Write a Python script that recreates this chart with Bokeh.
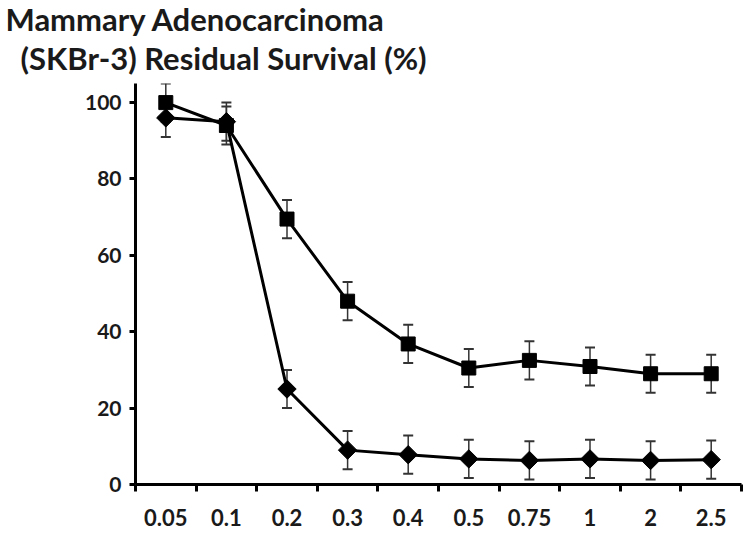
from bokeh.plotting import figure
from bokeh.models import (ColumnDataSource, Range1d, FixedTicker, LinearAxis,
                          Whisker, TeeHead, Title)
from bokeh.embed import file_html
from bokeh.resources import INLINE

categories = ["0.05", "0.1", "0.2", "0.3", "0.4", "0.5", "0.75", "1", "2", "2.5"]
square_vals = [100, 94, 69.5, 48, 36.8, 30.5, 32.5, 30.9, 29, 29]
square_err = [5, 5, 5, 5, 5, 5, 5, 5, 5, 5]
diamond_vals = [96, 95, 25, 9, 7.8, 6.7, 6.3, 6.7, 6.3, 6.5]
diamond_err = [5, 5, 5, 5, 5, 5, 5, 5, 5, 5]
y_ticks = [0, 20, 40, 60, 80, 100]
title_line1 = "Mammary Adenocarcinoma"
title_line2 = "(SKBr-3) Residual Survival (%)"

FONT = "Lato"
n = len(categories)
xpos = [i + 0.5 for i in range(n)]

sq = ColumnDataSource(dict(x=xpos, y=square_vals,
                           lo=[v - e for v, e in zip(square_vals, square_err)],
                           hi=[v + e for v, e in zip(square_vals, square_err)]))
di = ColumnDataSource(dict(x=xpos, y=diamond_vals,
                           lo=[v - e for v, e in zip(diamond_vals, diamond_err)],
                           hi=[v + e for v, e in zip(diamond_vals, diamond_err)]))

W, H = 743, 533
BL, BR, BT, BB = 135, 2, 83, 49
p = figure(width=W, height=H, output_backend="svg", toolbar_location=None,
           x_range=Range1d(0, n), y_range=Range1d(0, 105),
           min_border_left=BL, min_border_right=BR, min_border_bottom=BB,
           min_border_top=BT)
p.title = None
p.grid.visible = False
p.outline_line_color = None
p.background_fill_color = "white"
p.border_fill_color = "white"

# two-line title (bottom line added first so it sits nearest the plot)
t2 = Title(text=title_line2, align="left", text_font=FONT, text_font_size="31px",
           text_font_style="bold", text_color="#1a1a1a", offset=-115,
           standoff=14)
t1 = Title(text=title_line1, align="left", text_font=FONT, text_font_size="31px",
           text_font_style="bold", text_color="#1a1a1a", offset=-130,
           standoff=-16)
p.add_layout(t2, "above")
p.add_layout(t1, "above")

# y axis
ya = p.yaxis[0]
ya.ticker = FixedTicker(ticks=y_ticks)
ya.minor_tick_line_color = None
ya.axis_line_width = 3
ya.major_tick_line_width = 3
ya.major_tick_out = 6
ya.major_tick_in = 0
ya.major_label_standoff = 8
ya.major_label_text_font = FONT
ya.major_label_text_font_style = "bold"
ya.major_label_text_font_size = "21px"
ya.major_label_text_color = "#1a1a1a"

# x axis: tick marks at category boundaries
bounds = list(range(n + 1))
xa = p.xaxis[0]
xa.ticker = FixedTicker(ticks=bounds)
xa.major_label_overrides = {b: "" for b in bounds}
xa.minor_tick_line_color = None
xa.axis_line_width = 3
xa.major_tick_line_width = 3
xa.major_tick_out = 7
xa.major_tick_in = 0
xa.major_label_standoff = 0

# x labels at category centres
xl = LinearAxis(ticker=FixedTicker(ticks=xpos),
                major_label_overrides={x: c for x, c in zip(xpos, categories)})
xl.axis_line_color = None
xl.major_tick_line_color = None
xl.minor_tick_line_color = None
xl.major_tick_out = 0
xl.major_label_standoff = 17
xl.major_label_text_font = FONT
xl.major_label_text_font_style = "bold"
xl.major_label_text_font_size = "22px"
xl.major_label_text_color = "#1a1a1a"
p.add_layout(xl, "below")

# error bars
for src in (sq, di):
    w = Whisker(source=src, base="x", lower="lo", upper="hi",
                line_color="#333333", line_width=1.5,
                upper_head=TeeHead(size=10, line_color="#333333", line_width=2),
                lower_head=TeeHead(size=10, line_color="#333333", line_width=2))
    p.add_layout(w)

# lines and markers
p.line("x", "y", source=sq, line_color="black", line_width=3)
p.line("x", "y", source=di, line_color="black", line_width=3)
p.scatter("x", "y", source=sq, marker="square", size=14,
          fill_color="black", line_color="black")
p.scatter("x", "y", source=di, marker="square", size=13, angle=0.785398,
          fill_color="black", line_color="black")

open("out.html", "w").write(file_html(p, INLINE))
